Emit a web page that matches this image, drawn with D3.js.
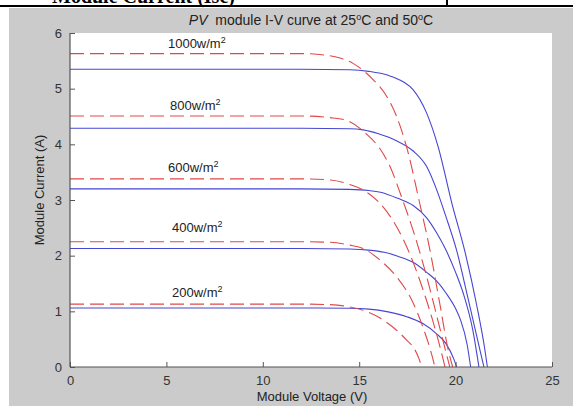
<!DOCTYPE html>
<html><head><meta charset="utf-8">
<script src="https://cdn.jsdelivr.net/npm/d3@7"></script>
<style>
html,body{margin:0;padding:0;background:#fff;}
svg{display:block;font-family:"Liberation Sans",Arial,sans-serif;}
</style></head>
<body>
<script>
// ---- data ----
const xTicks = [0, 5, 10, 15, 20, 25];
const yTicks = [0, 1, 2, 3, 4, 5, 6];
const irradiance = [1000, 800, 600, 400, 200];
const irrLabelV = [5.08, 5.19, 5.08, 5.29, 5.29];
const irrLabelI = [5.73, 4.62, 3.5, 2.42, 1.26];
// 25 °C (blue, solid) — [voltage, current]
const blue1000 = [[0,5.35],[12,5.35],[14.5,5.34],[15.5,5.31],[16.5,5.24],[17.3,5.12],[17.8,4.98],[18.5,4.56],[19.1,3.95],[19.8,2.95],[20.5,2.05],[21.1,1.1],[21.5,0.35],[21.65,0]];
const blue800  = [[0,4.29],[12,4.29],[14.5,4.28],[15.2,4.26],[16,4.19],[16.9,4.07],[17.8,3.88],[18.5,3.6],[19.0,3.2],[19.5,2.7],[20.05,2.1],[20.6,1.3],[21.0,0.7],[21.3,0.25],[21.47,0]];
const blue600  = [[0,3.2],[12,3.2],[14.5,3.19],[15.5,3.17],[16.1,3.14],[17,3.03],[17.8,2.9],[18.5,2.68],[19.0,2.42],[19.5,2.1],[20.0,1.7],[20.4,1.32],[20.9,0.65],[21.21,0]];
const blue400  = [[0,2.13],[12,2.13],[14.5,2.12],[15.5,2.1],[16.3,2.06],[17.0,1.99],[17.8,1.88],[18.5,1.7],[19.0,1.55],[19.5,1.33],[20.0,1.05],[20.25,0.85],[20.6,0.4],[20.78,0]];
const blue200  = [[0,1.06],[12,1.06],[14.5,1.055],[15.5,1.04],[16.5,0.99],[17.5,0.9],[18.3,0.78],[19.0,0.6],[19.5,0.42],[19.9,0.15],[20.05,0]];
// 50 °C (red, dashed)
const red1000 = [[0,5.63],[12,5.63],[13.3,5.6],[14.0,5.55],[14.7,5.45],[15.3,5.3],[15.73,5.16],[16.43,4.86],[16.94,4.5],[17.5,3.9],[18.1,3.0],[18.67,2.1],[19.2,1.1],[19.62,0.3],[19.85,0]];
const red800  = [[0,4.51],[12,4.51],[13.5,4.48],[14.35,4.43],[15.39,4.18],[16.08,3.92],[16.6,3.6],[17.2,3.05],[17.8,2.45],[18.4,1.75],[19.0,0.95],[19.4,0.4],[19.7,0]];
const red600  = [[0,3.38],[12,3.38],[13.5,3.36],[14.5,3.28],[15.2,3.18],[16.08,2.94],[16.94,2.52],[17.6,2.05],[18.2,1.5],[18.8,0.85],[19.2,0.35],[19.45,0]];
const red400  = [[0,2.25],[12,2.25],[13.5,2.24],[14.5,2.19],[15.2,2.13],[16.08,1.92],[16.94,1.62],[17.8,1.15],[18.3,0.72],[18.7,0.3],[18.93,0]];
const red200  = [[0,1.13],[12,1.13],[13.5,1.12],[14.5,1.08],[15.2,1.02],[16.08,0.88],[16.94,0.66],[17.5,0.47],[17.8,0.36],[18.1,0.15],[18.24,0]];
const blueSeries = [blue1000, blue800, blue600, blue400, blue200];
const redSeries = [red1000, red800, red600, red400, red200];

// ---- drawing ----
const W = 573, H = 406;
const svg = d3.select("body").append("svg").attr("width", W).attr("height", H);

// document remnants at top (text cut off by the page edge, as in the scan)
svg.append("text").attr("x", 52).attr("y", 3).attr("font-size", 20)
  .attr("font-family", "Liberation Serif, serif").attr("font-weight", "bold").attr("fill", "#000")
  .text("Module Current (Isc)");
svg.append("line").attr("x1", 0).attr("x2", W).attr("y1", 6).attr("y2", 6).attr("stroke", "#000").attr("stroke-width", 2);
svg.append("line").attr("x1", 447).attr("x2", 447).attr("y1", 0).attr("y2", 6).attr("stroke", "#000").attr("stroke-width", 2);

// figure background
svg.append("rect").attr("x", 9).attr("y", 8).attr("width", W - 9).attr("height", H - 8).attr("fill", "#cbcbcb");

const m = {left: 70, right: 552, top: 33, bottom: 367};
const x = d3.scaleLinear().domain([0, 25]).range([m.left, m.right]);
const y = d3.scaleLinear().domain([0, 6]).range([m.bottom, m.top]);

svg.append("rect").attr("x", m.left).attr("y", m.top).attr("width", m.right - m.left).attr("height", m.bottom - m.top).attr("fill", "#fff");

const line = d3.line().x(d => x(d[0])).y(d => y(d[1])).curve(d3.curveMonotoneX);
const plot = svg.append("g");
blueSeries.forEach(s => plot.append("path").attr("d", line(s)).attr("fill", "none").attr("stroke", "#4646d2").attr("stroke-width", 1.1));
redSeries.forEach(s => plot.append("path").attr("d", line(s)).attr("fill", "none").attr("stroke", "#e04848").attr("stroke-width", 1.1).attr("stroke-dasharray", "14,6"));

// irradiance labels
irradiance.forEach((g, i) => {
  const t = plot.append("text").attr("x", x(irrLabelV[i])).attr("y", y(irrLabelI[i])).attr("font-size", 13).attr("fill", "#222");
  t.append("tspan").text(g + "w/m");
  t.append("tspan").attr("dy", -5).attr("font-size", 9).text("2");
});

// axes (MATLAB style, inward ticks, no box)
const axCol = "#555";
const xAxis = svg.append("g").attr("transform", `translate(0,${m.bottom})`)
  .call(d3.axisBottom(x).tickValues(xTicks).tickSize(-5).tickPadding(9).tickFormat(d3.format("d")));
const yAxis = svg.append("g").attr("transform", `translate(${m.left},0)`)
  .call(d3.axisLeft(y).tickValues(yTicks).tickSize(-5).tickPadding(8).tickFormat(d3.format("d")));
[xAxis, yAxis].forEach(a => {
  a.select(".domain").attr("stroke", axCol).attr("stroke-width", 1.2);
  a.selectAll(".tick line").attr("stroke", axCol);
  a.selectAll(".tick text").attr("fill", "#333").attr("font-size", 13).attr("font-family", "Liberation Sans, Arial, sans-serif");
});
xAxis.select(".domain").attr("d", `M${m.left},0H${m.right}`);
yAxis.select(".domain").attr("d", `M0,${m.bottom}V${m.top}`);

// title
const title = svg.append("text").attr("x", 311).attr("y", 25).attr("text-anchor", "middle").attr("font-size", 14).attr("fill", "#222");
title.append("tspan").attr("font-style", "italic").text("PV");
title.append("tspan").text("\u00a0\u00a0module I-V curve at 25");
title.append("tspan").attr("dy", -5).attr("font-size", 9).text("o");
title.append("tspan").attr("dy", 5).text("C and 50");
title.append("tspan").attr("dy", -5).attr("font-size", 9).text("o");
title.append("tspan").attr("dy", 5).text("C");

// axis labels
svg.append("text").attr("x", 312).attr("y", 401).attr("text-anchor", "middle").attr("font-size", 13).attr("fill", "#222").text("Module Voltage (V)");
svg.append("text").attr("transform", "translate(44,190) rotate(-90)").attr("text-anchor", "middle").attr("font-size", 13).attr("fill", "#222").text("Module Current (A)");
</script>
</body></html>
